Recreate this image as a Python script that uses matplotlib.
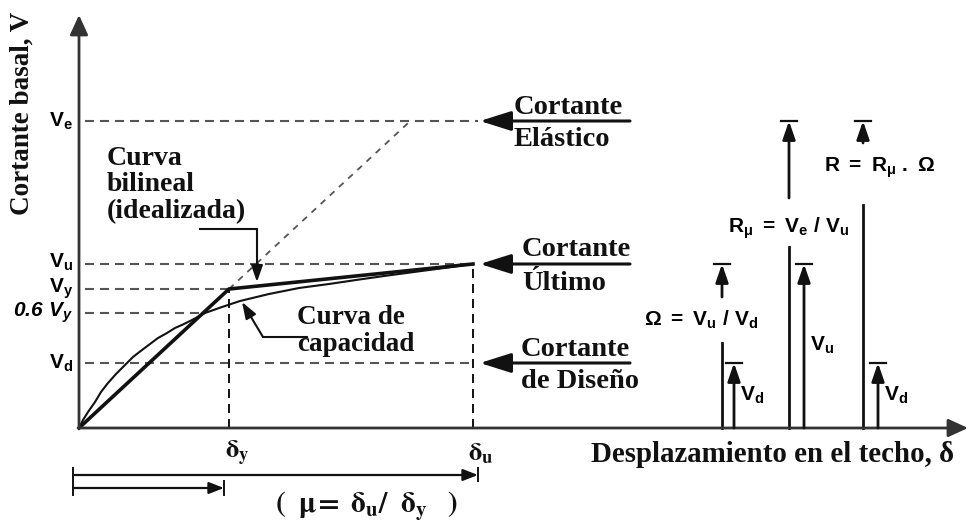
import matplotlib
matplotlib.use("Agg")
import matplotlib.pyplot as plt

# ---- values (displacement / base-shear units of the sketch) ----
shear_levels = {"Ve": 307, "Vu": 164, "Vy": 139, "Vy06": 115, "Vd": 65}
delta_y = 150
delta_u = 394
bilinear_x = [0, delta_y, delta_u]
bilinear_y = [0, shear_levels["Vy"], shear_levels["Vu"]]
capacity_x = [0, 4, 9, 16, 22, 29, 37, 46, 54, 63, 71, 79, 88, 96, 105, 113, 126,
              143, 161, 190, 220, 250, 277, 305, 335, 365, 394]
capacity_y = [0, 8, 16, 26, 36, 45, 54, 63, 71, 78, 84, 90, 95, 100, 104, 108, 115,
              121, 127, 134, 140, 144, 148, 152, 156, 160, 164]
# right-hand factor diagrams
factor_labels = [r"$\Omega\ =\ V_u\ /\ V_d$", r"$R_\mu\ =\ V_e\ /\ V_u$",
                 r"$R\ =\ R_\mu\ .\ \Omega$"]
factor_stem_x = [643, 710, 784]
factor_stem_top = [85, 181, 223]
factor_arrow_from = [131, 230, 285]
factor_upper = ["Vu", "Ve", "Ve"]
factor_short_x = [655, 725, 799]
factor_short = ["Vd", "Vu", "Vd"]

plt.rcParams["mathtext.fontset"] = "custom"
plt.rcParams["mathtext.rm"] = "Liberation Sans:bold"
plt.rcParams["mathtext.it"] = "Liberation Sans:bold"
plt.rcParams["mathtext.bf"] = "Liberation Sans:bold"
plt.rcParams["mathtext.sf"] = "Liberation Sans:bold:italic"
plt.rcParams["lines.scale_dashes"] = False

INK = "#111111"
AXC = "#333333"
DASH = "#555555"
SERIF = dict(family="Liberation Serif", weight="bold", color=INK)

fig = plt.figure(figsize=(9.68, 5.2), dpi=100)
ax = fig.add_axes([0, 0, 1, 1])
ax.set_xlim(-79, 889)
ax.set_ylim(-92, 428)
ax.axis("off")


def arrow(x0, y0, x1, y1, lw=1.8, hl=1.1, hw=0.45, color=INK):
    ax.annotate("", xy=(x1, y1), xytext=(x0, y0),
                arrowprops=dict(arrowstyle=f"-|>,head_length={hl},head_width={hw}",
                                lw=lw, color=color, shrinkA=0, shrinkB=0,
                                mutation_scale=10))


dash = (0, (6.5, 4.3))

# axes
arrow(0, 0, 0, 413, lw=2, hl=1.2, hw=0.55, color=AXC)
arrow(0, 0, 889, 0, lw=2, hl=1.2, hw=0.55, color=AXC)

# horizontal reference levels
Ve, Vu, Vy, Vy06, Vd = (shear_levels[k] for k in ("Ve", "Vu", "Vy", "Vy06", "Vd"))
ax.plot([6, 399], [Ve, Ve], ls=dash, color=DASH, lw=1.5)
ax.plot([6, delta_u], [Vu, Vu], ls=dash, color=DASH, lw=1.5)
ax.plot([6, delta_y], [Vy, Vy], ls=dash, color=DASH, lw=1.5)
ax.plot([6, 124], [Vy06, Vy06], ls=dash, color=DASH, lw=1.5)
ax.plot([6, delta_u], [Vd, Vd], ls=dash, color=DASH, lw=1.5)
# vertical reference lines
ax.plot([delta_y, delta_y], [0, Vy], ls=dash, color=INK, lw=1.4)
ax.plot([delta_u, delta_u], [0, Vu], ls=dash, color=INK, lw=1.4)
# elastic branch extension
slope = Vy / delta_y
ax.plot([delta_y, Ve / slope], [Vy, Ve], ls=(0, (4.5, 4.5)), color=DASH, lw=1.3)

# curves
ax.plot(capacity_x, capacity_y, color=INK, lw=1.5, solid_capstyle="round",
        solid_joinstyle="round")
ax.plot(bilinear_x, bilinear_y, color=INK, lw=2.6, solid_joinstyle="miter")

# y level labels
ax.text(-6, Ve, r"$\mathrm{V_e}$", ha="right", va="center", fontsize=15)
ax.text(-6, Vu + 2, r"$\mathrm{V_u}$", ha="right", va="center", fontsize=15)
ax.text(-6, Vy, r"$\mathrm{V_y}$", ha="right", va="center", fontsize=15)
ax.text(-6, Vy06, r"$\mathsf{0.6\ V_y}$", ha="right", va="center", fontsize=15)
ax.text(-6, Vd, r"$\mathrm{V_d}$", ha="right", va="center", fontsize=15)

# axis titles
ax.text(-57, 315, "Cortante basal, V", rotation=90, ha="center", va="center",
        fontsize=19.5, **SERIF)
ax.text(875, -27, r"Desplazamiento en el techo, δ", ha="right", va="center",
        fontsize=20.8, **SERIF)

# displacement tick labels
ax.text(delta_y + 8, -25, r"$\mathbf{\delta_y}$", ha="center", va="center",
        fontsize=19, math_fontfamily="stix", color=INK)
ax.text(delta_u + 8, -25, r"$\mathbf{\delta_u}$", ha="center", va="center",
        fontsize=19, math_fontfamily="stix", color=INK)

# ductility dimension arrows
arrow(-6, -47, delta_u + 5, -47, lw=1.6, hl=0.9, hw=0.35)
arrow(-6, -60, delta_y - 5, -60, lw=1.6, hl=0.9, hw=0.35)
ax.plot([-6, -6], [-40, -67], color=INK, lw=1.4)
ax.plot([delta_u + 5, delta_u + 5], [-40, -53], color=INK, lw=1.4)
ax.plot([delta_y - 5, delta_y - 5], [-53, -67], color=INK, lw=1.4)
ax.text(288, -77, r"$\mathbf{(\ \ \mu\!=\ \delta_u/\ \ \delta_y\ \ \ )}$", ha="center",
        va="center", fontsize=21, math_fontfamily="stix", color=INK)

# curve call-outs
ax.text(28, 243, "Curva\nbilineal\n(idealizada)", ha="left", va="center",
        fontsize=20, linespacing=1.1, **SERIF)
ax.plot([121, 178], [199, 199], color=INK, lw=1.5)
arrow(178, 199, 178, 146, lw=1.5, hl=1.0, hw=0.35)
ax.text(218, 97, "Curva de\ncapacidad", ha="left", va="center",
        fontsize=19.5, linespacing=1.1, **SERIF)
ax.plot([228, 184], [91, 91], color=INK, lw=1.5)
arrow(184, 91, 163, 126, lw=1.5, hl=1.0, hw=0.35)

# shear level call-outs on the right
for y, top, bottom, tx in [(Ve, "Cortante", "Elástico", 435),
                           (Vu, "Cortante", "Último", 443),
                           (Vd, "Cortante", "de Diseño", 442)]:
    arrow(551, y, 401, y, lw=2.2, hl=1.9, hw=0.6)
    ax.text(tx, y + 14, top, ha="left", va="center", fontsize=20.5, **SERIF)
    ax.text(tx, y - 19, bottom, ha="left", va="center", fontsize=20.5, **SERIF)

# strength factor diagrams
label_x = [622, 710, 801]
label_y = [108, 200, 260]
short_label_y = [33, 83, 33]
for i in range(3):
    sx = factor_stem_x[i]
    top_level = shear_levels[factor_upper[i]]
    ax.plot([sx, sx], [0, factor_stem_top[i]], color=INK, lw=2)
    arrow(sx, factor_arrow_from[i], sx, top_level, lw=2, hl=1.1, hw=0.38)
    ax.plot([sx - 8, sx + 8], [top_level, top_level], color=INK, lw=1.6)
    qx = factor_short_x[i]
    short_level = shear_levels[factor_short[i]]
    arrow(qx, 0, qx, short_level, lw=2, hl=1.1, hw=0.38)
    ax.plot([qx - 8, qx + 8], [short_level, short_level], color=INK, lw=1.6)
    sub = factor_short[i][1]
    ax.text(qx + 6, short_label_y[i], rf"$\mathrm{{V_{sub}}}$",
            ha="left", va="center", fontsize=15)
    ax.text(label_x[i], label_y[i], factor_labels[i], ha="center", va="center",
            fontsize=15)

fig.savefig("out.png", dpi=100, facecolor="white")
